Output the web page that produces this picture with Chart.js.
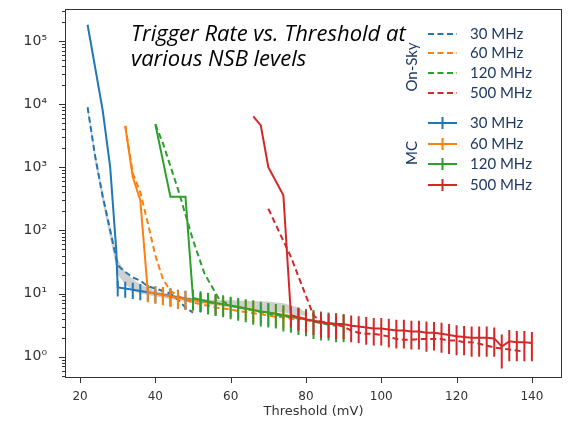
<!DOCTYPE html>
<html>
<head>
<meta charset="utf-8">
<script src="https://cdn.jsdelivr.net/npm/chart.js@4.4.1/dist/chart.umd.min.js"></script>
<style>
  html, body { margin: 0; padding: 0; background: #fff; }
</style>
</head>
<body>
<canvas id="chart" width="569" height="421"></canvas>
<script>
// MC, 30 MHz
const thrMC30 = [22, 26, 28, 29.6, 30, 32, 34, 36, 38, 40, 42, 44, 46, 48, 50, 52, 54, 56];
const rateMC30 = [180000, 8000, 1000, 50, 12.5, 12, 11.5, 11, 10.5, 10, 9.6, 9.2, 8.7, 8.3, 8, 7.6, 7.3, 7];
const errMC30 = [0, 0, 0, 0, 3.5, 3.4, 3.3, 3.2, 3.1, 3, 3, 2.9, 2.8, 2.8, 2.7, 2.6, 2.6, 2.5];

// MC, 60 MHz
const thrMC60 = [32, 34, 36, 38, 40, 42, 44, 46, 48, 50, 52, 54, 56, 58, 60, 62, 64, 66, 68, 70, 72, 74, 76, 78, 80];
const rateMC60 = [4500, 700, 300, 10.5, 10, 9.5, 9, 8.5, 8.2, 7.9, 7.6, 7.3, 7, 6.7, 6.4, 6.1, 5.8, 5.5, 5.2, 5, 4.8, 4.6, 4.4, 4.2, 4];
const errMC60 = [0, 0, 0, 3.2, 3.1, 3, 2.9, 2.8, 2.7, 2.6, 2.5, 2.4, 2.3, 2.3, 2.2, 2.1, 2, 2, 1.9, 1.9, 1.8, 1.8, 1.7, 1.7, 1.6];

// MC, 120 MHz
const thrMC120 = [40, 44, 48, 50, 52, 54, 56, 58, 60, 62, 64, 66, 68, 70, 72, 74, 76, 78, 80, 82, 84, 86, 88, 90];
const rateMC120 = [4800, 340, 340, 8.5, 8, 7.5, 7.1, 6.8, 6.4, 6.1, 5.8, 5.5, 5.2, 5, 4.8, 4.5, 4.3, 4.1, 3.9, 3.7, 3.5, 3.4, 3.3, 3.2];
const errMC120 = [0, 0, 0, 3, 2.9, 2.8, 2.7, 2.6, 2.5, 2.4, 2.3, 2.3, 2.2, 2.1, 2, 2, 1.9, 1.9, 1.8, 1.8, 1.7, 1.6, 1.6, 1.5];

// MC, 500 MHz
const thrMC500 = [66, 68, 70, 74, 76, 78, 80, 82, 84, 86, 88, 90, 92, 94, 96, 98, 100, 102, 104, 106, 108, 110, 112, 114, 116, 118, 120, 122, 124, 126, 128, 130, 132, 134, 136, 138, 140];
const rateMC500 = [6400, 4600, 1000, 360, 4.6, 4.2, 3.9, 3.7, 3.5, 3.4, 3.3, 3.3, 3.1, 3, 2.9, 2.8, 2.8, 2.7, 2.6, 2.6, 2.5, 2.5, 2.4, 2.4, 2.3, 2.2, 2.1, 2.05, 2, 2, 2, 1.95, 1.45, 1.75, 1.7, 1.7, 1.65];
const errMC500 = [0, 0, 0, 0, 1.7, 1.6, 1.5, 1.5, 1.5, 1.4, 1.4, 1.4, 1.4, 1.35, 1.35, 1.3, 1.3, 1.3, 1.25, 1.25, 1.2, 1.2, 1.2, 1.15, 1.15, 1.1, 1.05, 1, 1, 1, 1, 0.95, 0.8, 0.9, 0.85, 0.85, 0.8];

// On-Sky
const thrSky30 = [22, 24, 26, 28, 30, 32, 34, 36, 38, 40, 42, 44, 46, 48, 50];
const rateSky30 = [8900, 1500, 350, 100, 28, 22, 18, 16, 13, 12, 11, 10, 8, 6, 5];

const thrSky60 = [32, 34, 36, 38, 40, 42, 44, 46, 48, 50, 52, 54, 56, 58, 60, 62, 64, 66, 68, 70, 72, 74, 76, 78];
const rateSky60 = [4500, 800, 400, 130, 40, 17, 11, 9.2, 8, 7.2, 6.8, 6.4, 6, 5.8, 5.6, 5.3, 5.1, 4.9, 4.7, 4.5, 4.3, 4.2, 4, 3.8];

const thrSky120 = [40, 42, 46, 50, 53, 57, 60, 62, 64, 66, 68, 70, 72, 74, 76, 78, 80, 82, 84, 86, 88];
const rateSky120 = [4800, 2400, 450, 70, 21, 8, 6.5, 6.1, 5.7, 5.4, 5.1, 4.8, 4.6, 4.4, 4.2, 4, 3.8, 3.6, 3.4, 3.2, 3.1];

const thrSky500 = [70, 76, 82, 84, 86, 88, 90, 92, 94, 96, 98, 100, 102, 104, 106, 108, 110, 112, 114, 116, 118, 120, 122, 124, 126, 128, 130, 132, 134, 136, 138];
const rateSky500 = [220, 38, 4.5, 3.6, 3.4, 3.2, 3, 2.6, 2.4, 2.3, 2.3, 2.2, 2.1, 1.9, 1.85, 1.85, 1.9, 1.9, 1.9, 1.9, 1.8, 1.8, 1.7, 1.7, 1.6, 1.5, 1.4, 1.35, 1.3, 1.25, 1.2];

// grey band around the on-sky curves
const thrBand = [22, 24, 26, 28, 30, 32, 34, 36, 40, 45, 50, 55, 60, 65, 70, 74, 78, 80];
const bandHi = [10000, 1800, 420, 120, 35, 22, 17, 14, 11, 9.5, 8.5, 8, 7.8, 7.6, 7.5, 7, 6, 5];
const bandLo = [7500, 1200, 280, 75, 20, 14, 11, 10, 9, 8, 7, 6.5, 6, 5.5, 5, 5, 4.5, 4.5];

const nsbLabels = ["30 MHz", "60 MHz", "120 MHz", "500 MHz"];
const colors = ["#1f77b4", "#ff7f0e", "#2ca02c", "#d62728"];
const xTicks = [20, 40, 60, 80, 100, 120, 140];

const axisColor = "#333";
const legendColor = "#1f3864";

const pts = (xs, ys) => xs.map((x, i) => ({ x: x, y: ys[i] }));

const mcSets = [
    [thrMC30, rateMC30, errMC30],
    [thrMC60, rateMC60, errMC60],
    [thrMC120, rateMC120, errMC120],
    [thrMC500, rateMC500, errMC500],
];
const skySets = [
    [thrSky30, rateSky30],
    [thrSky60, rateSky60],
    [thrSky120, rateSky120],
    [thrSky500, rateSky500],
];

const datasets = [];
// MC lines drawn on top (lower order = on top)
mcSets.forEach((s, i) => {
    datasets.push({
        label: "MC " + nsbLabels[i],
        data: pts(s[0], s[1]),
        errors: s[2],
        borderColor: colors[i],
        borderWidth: 2,
        pointRadius: 0,
        fill: false,
        order: 4 - i,
    });
});
skySets.forEach((s, i) => {
    datasets.push({
        label: "On-Sky " + nsbLabels[i],
        data: pts(s[0], s[1]),
        borderColor: colors[i],
        borderWidth: 2,
        borderDash: [6, 3.5],
        pointRadius: 0,
        fill: false,
        order: 10 - i,
    });
});
datasets.push({
    label: "band low",
    data: pts(thrBand, bandLo),
    borderWidth: 0,
    borderColor: "rgba(0,0,0,0)",
    pointRadius: 0,
    fill: false,
    order: 20,
});
datasets.push({
    label: "band high",
    data: pts(thrBand, bandHi),
    borderWidth: 0,
    borderColor: "rgba(0,0,0,0)",
    backgroundColor: "rgba(150,150,150,0.45)",
    pointRadius: 0,
    fill: "-1",
    order: 19,
});

const sup = { "-": "⁻", "0": "⁰", "1": "¹", "2": "²", "3": "³", "4": "⁴", "5": "⁵", "6": "⁶", "7": "⁷", "8": "⁸", "9": "⁹" };
function powLabel(v) {
    const e = Math.log10(v);
    if (Math.abs(e - Math.round(e)) > 1e-6) return "";
    return "10" + String(Math.round(e)).split("").map(c => sup[c]).join("");
}

// error bars for the MC series
const errorBars = {
    id: "errorBars",
    afterDatasetsDraw(chart) {
        const { ctx, chartArea: a, scales: { x, y } } = chart;
        ctx.save();
        ctx.beginPath();
        ctx.rect(a.left, a.top, a.right - a.left, a.bottom - a.top);
        ctx.clip();
        chart.data.datasets.forEach(ds => {
            if (!ds.errors) return;
            ctx.strokeStyle = ds.borderColor;
            ctx.lineWidth = 2;
            ctx.beginPath();
            ds.data.forEach((p, i) => {
                const e = ds.errors[i];
                if (!e) return;
                const px = x.getPixelForValue(p.x);
                ctx.moveTo(px, y.getPixelForValue(p.y + e));
                ctx.lineTo(px, y.getPixelForValue(Math.max(p.y - e, y.min)));
            });
            ctx.stroke();
        });
        ctx.restore();
    }
};

// matplotlib-like frame and tick marks
const frame = {
    id: "frame",
    afterDraw(chart) {
        const { ctx, chartArea: a, scales: { x, y } } = chart;
        ctx.save();
        ctx.strokeStyle = axisColor;
        ctx.lineWidth = 1;
        ctx.strokeRect(a.left + 0.5, a.top + 0.5, a.right - a.left - 1, a.bottom - a.top - 1);
        ctx.beginPath();
        xTicks.forEach(v => {
            const px = Math.round(x.getPixelForValue(v)) + 0.5;
            ctx.moveTo(px, a.bottom);
            ctx.lineTo(px, a.bottom + 5);
        });
        for (let e = -1; e <= 5; e++) {
            for (let m = 1; m <= 9; m++) {
                const v = m * Math.pow(10, e);
                if (v < y.min || v > y.max) continue;
                const py = Math.round(y.getPixelForValue(v)) + 0.5;
                ctx.moveTo(a.left, py);
                ctx.lineTo(a.left - (m === 1 ? 6 : 3), py);
            }
        }
        ctx.stroke();
        ctx.restore();
    }
};

// title text and the two-group legend
const annotations = {
    id: "annotations",
    afterDraw(chart) {
        const ctx = chart.ctx;
        ctx.save();
        ctx.fillStyle = "#000";
        ctx.font = "italic 22px 'Open Sans'";
        ctx.textAlign = "left";
        ctx.textBaseline = "alphabetic";
        ctx.fillText("Trigger Rate vs. Threshold at", 131, 41);
        ctx.fillText("various NSB levels", 131, 66);

        const skyRows = [34, 53, 73, 93];
        const mcRows = [123, 144, 164, 185];
        ctx.lineWidth = 2;
        skyRows.forEach((ry, i) => {
            ctx.strokeStyle = colors[i];
            ctx.setLineDash([6, 3.5]);
            ctx.beginPath();
            ctx.moveTo(428, ry);
            ctx.lineTo(457, ry);
            ctx.stroke();
        });
        ctx.setLineDash([]);
        mcRows.forEach((ry, i) => {
            ctx.strokeStyle = colors[i];
            ctx.beginPath();
            ctx.moveTo(428, ry);
            ctx.lineTo(457, ry);
            ctx.moveTo(442.5, ry - 6);
            ctx.lineTo(442.5, ry + 6);
            ctx.stroke();
        });
        ctx.fillStyle = legendColor;
        ctx.font = "15px Lato";
        ctx.textBaseline = "middle";
        skyRows.forEach((ry, i) => ctx.fillText(nsbLabels[i], 470, ry));
        mcRows.forEach((ry, i) => ctx.fillText(nsbLabels[i], 470, ry));
        ctx.textAlign = "center";
        ctx.translate(412, 67);
        ctx.rotate(-Math.PI / 2);
        ctx.fillText("On-Sky", 0, 0);
        ctx.rotate(Math.PI / 2);
        ctx.translate(0, 153 - 67);
        ctx.rotate(-Math.PI / 2);
        ctx.fillText("MC", 0, 0);
        ctx.restore();
    }
};

new Chart(document.getElementById("chart").getContext("2d"), {
    type: "line",
    data: { datasets: datasets },
    options: {
        responsive: false,
        animation: false,
        layout: { padding: { top: 9, right: 7, left: 0, bottom: 0 } },
        elements: { line: { tension: 0 } },
        plugins: {
            legend: { display: false },
            tooltip: { enabled: false },
        },
        scales: {
            x: {
                type: "linear",
                min: 16,
                max: 148,
                grid: { display: false },
                border: { display: false },
                afterFit: s => { s.height = 43; s.paddingLeft = 0; s.paddingRight = 0; },
                afterBuildTicks: s => { s.ticks = xTicks.map(v => ({ value: v })); },
                ticks: {
                    color: axisColor,
                    font: { family: "DejaVu Sans", size: 12 },
                    padding: 4,
                    maxRotation: 0,
                    autoSkip: false,
                },
                title: {
                    display: true,
                    text: "Threshold (mV)",
                    color: axisColor,
                    font: { family: "DejaVu Sans", size: 13 },
                    padding: { top: 0, bottom: 2 },
                },
            },
            y: {
                type: "logarithmic",
                min: 0.46,
                max: 320000,
                grid: { display: false },
                border: { display: false },
                afterFit: s => { s.width = 65; s.paddingTop = 0; s.paddingBottom = 0; },
                ticks: {
                    color: axisColor,
                    font: { family: "DejaVu Sans", size: 14 },
                    padding: 10,
                    autoSkip: false,
                    callback: v => powLabel(v),
                },
            },
        },
    },
    plugins: [errorBars, frame, annotations],
});
</script>
</body>
</html>
